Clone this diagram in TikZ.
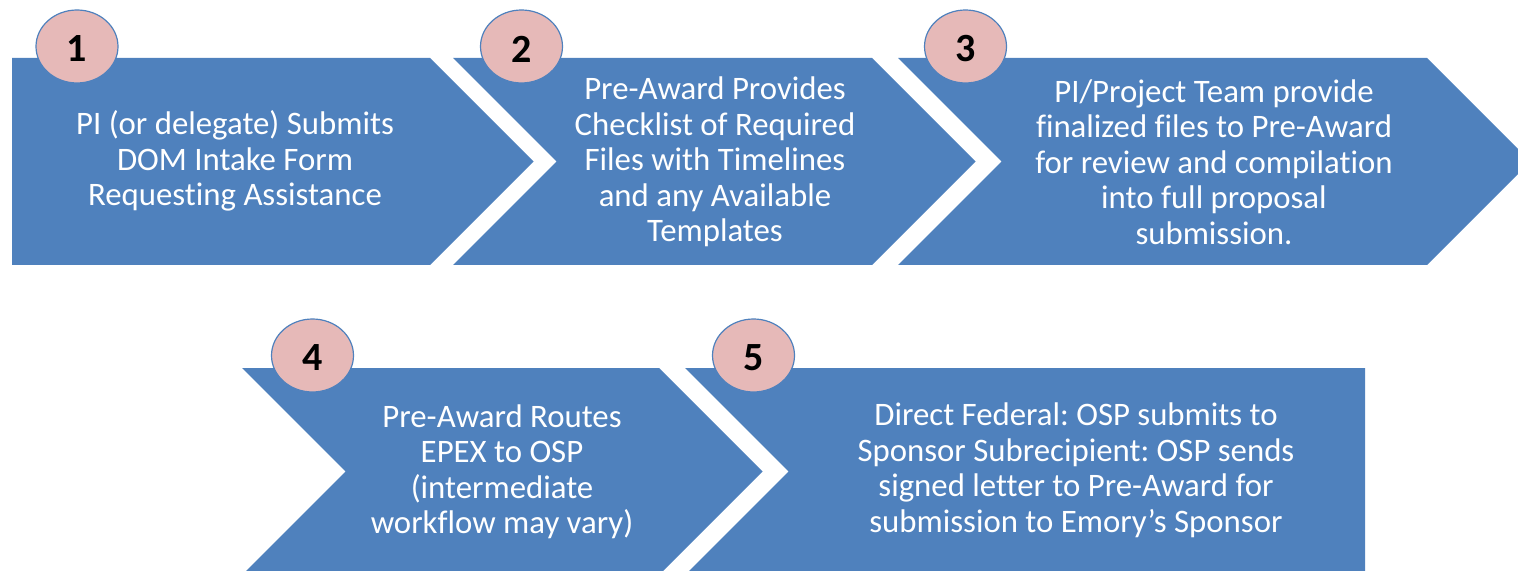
\documentclass[tikz,border=0pt]{standalone}
\usepackage{fontspec}
\setmainfont[Ligatures=NoCommon]{Carlito}
\definecolor{chev}{HTML}{4F81BD}
\definecolor{badge}{HTML}{E6B9B8}
\tikzset{
  chevshape/.style={fill=chev, draw=none},
  badgecirc/.style={fill=badge, draw=chev, line width=0.6pt},
  steptext/.style={text=white, align=center, font=\fontsize{16.4}{17.75}\selectfont\frenchspacing, inner sep=0pt},
  numtext/.style={text=black, font=\fontsize{20}{24}\selectfont\bfseries, inner sep=0pt}
}
\begin{document}
\begin{tikzpicture}[x=0.5pt,y=-0.5pt]
\useasboundingbox (0,0) rectangle (1518,571);
\clip (0,0) rectangle (1518,571);
% row 1
\fill[chevshape] (12,58) -- (430,58) -- (533.5,161.5) -- (430,265) -- (12,265) -- cycle;
\fill[chevshape] (453,58) -- (872,58) -- (975.5,161.5) -- (872,265) -- (453,265) -- (556.5,161.5) -- cycle;
\fill[chevshape] (898,58) -- (1427,58) -- (1530.5,161.5) -- (1427,265) -- (898,265) -- (1001.5,161.5) -- cycle;
% row 2
\fill[chevshape] (242,368) -- (659,368) -- (762.5,471.5) -- (659,575) -- (242,575) -- (345.5,471.5) -- cycle;
\fill[chevshape] (685,368) -- (1365,368) -- (1365,575) -- (685,575) -- (788.5,471.5) -- cycle;
% badges
\draw[badgecirc] (77,46.5) ellipse [x radius=20.5pt, y radius=18.25pt];
\draw[badgecirc] (521.5,46.5) ellipse [x radius=20.5pt, y radius=18.25pt];
\draw[badgecirc] (965.5,46.5) ellipse [x radius=20.5pt, y radius=18.25pt];
\draw[badgecirc] (312.5,355.5) ellipse [x radius=20.5pt, y radius=18.25pt];
\draw[badgecirc] (753.5,355.5) ellipse [x radius=20.5pt, y radius=18.25pt];
\node[numtext] (n1) at (77,49) {1};
\node[numtext] (n2) at (521.5,49) {2};
\node[numtext] (n3) at (965.5,49) {3};
\node[numtext] (n4) at (312.5,358) {4};
\node[numtext] (n5) at (753.5,358) {5};
% texts
\node[steptext] (t1) at (235,161) {PI (or delegate) Submits\\DOM Intake Form\\Requesting Assistance};
\node[steptext] (t2) at (715,162) {Pre-Award Provides\\Checklist of Required\\Files with Timelines\\and any Available\\Templates};
\node[steptext] (t3) at (1214,162) {PI/Project Team provide\\finalized files to Pre-Award\\for review and compilation\\into full proposal\\submission.};
\node[steptext] (t4) at (502,472) {Pre-Award Routes\\EPEX to OSP\\(intermediate\\workflow may vary)};
\node[steptext] (t5) at (1076,470.5) {Direct Federal: OSP submits to\\Sponsor Subrecipient: OSP sends\\signed letter to Pre-Award for\\submission to Emory’s Sponsor};
\end{tikzpicture}
\end{document}
